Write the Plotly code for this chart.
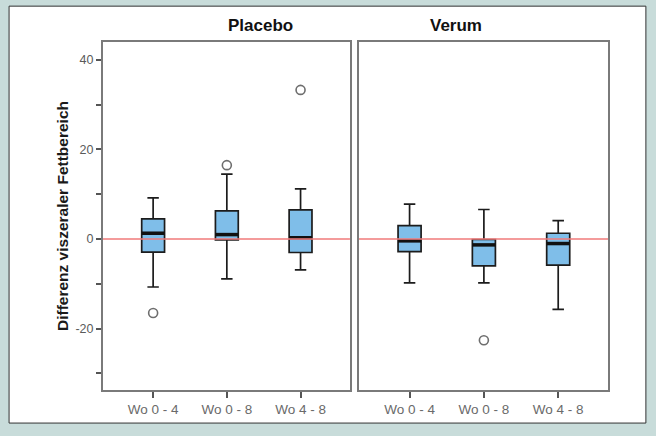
import plotly.graph_objects as go

# ---- data ----
groups = ["Wo 0 - 4", "Wo 0 - 8", "Wo 4 - 8"]
panels = ["Placebo", "Verum"]

placebo_low = [-10.7, -8.9, -6.9]
placebo_q1 = [-2.9, -0.2, -3.0]
placebo_median = [1.3, 1.0, 0.3]
placebo_q3 = [4.5, 6.3, 6.5]
placebo_high = [9.2, 14.5, 11.2]
placebo_out_idx = [0, 1, 2]
placebo_out_val = [-16.5, 16.5, 33.3]

verum_low = [-9.8, -9.8, -15.7]
verum_q1 = [-2.8, -6.0, -5.8]
verum_median = [-0.4, -1.3, -1.0]
verum_q3 = [3.0, -0.1, 1.3]
verum_high = [7.8, 6.6, 4.1]
verum_out_idx = [1]
verum_out_val = [-22.6]

y_tick_vals = [-30, -20, -10, 0, 10, 20, 30, 40]
y_tick_text = ["", "-20", "", "0", "", "20", "", "40"]

# ---- style ----
BOX_FILL = "#7FBEE9"
BOX_W = 0.31
font_fam = "Liberation Sans, Arial, sans-serif"

fig = go.Figure()

series = [
    ("x", "y", placebo_low, placebo_q1, placebo_median, placebo_q3, placebo_high, placebo_out_idx, placebo_out_val),
    ("x2", "y2", verum_low, verum_q1, verum_median, verum_q3, verum_high, verum_out_idx, verum_out_val),
]

pos = list(range(len(groups)))
for xa, ya, lo, q1, med, q3, hi, oi, ov in series:
    fig.add_trace(go.Box(
        x=pos, lowerfence=lo, q1=q1, median=med, q3=q3, upperfence=hi,
        width=BOX_W, whiskerwidth=0.5,
        fillcolor=BOX_FILL, line=dict(color="#1c1c1c", width=1.7),
        boxpoints=False, hoverinfo="skip", showlegend=False,
        xaxis=xa, yaxis=ya,
    ))
    # thick median bars
    mx, my = [], []
    for i, m in zip(pos, med):
        mx += [i - BOX_W / 2, i + BOX_W / 2, None]
        my += [m, m, None]
    fig.add_trace(go.Scatter(
        x=mx, y=my, mode="lines", line=dict(color="#111111", width=3.5),
        hoverinfo="skip", showlegend=False, xaxis=xa, yaxis=ya,
    ))
    # outliers
    fig.add_trace(go.Scatter(
        x=oi, y=ov, mode="markers",
        marker=dict(symbol="circle-open", size=9, color="#6e6e6e", line=dict(width=1.6)),
        hoverinfo="skip", showlegend=False, xaxis=xa, yaxis=ya,
    ))

axis_common = dict(
    showline=True, linecolor="#7a7a7a", linewidth=2, mirror=True,
    showgrid=False, zeroline=False,
)
xr = [-0.68, 2.67]
yr = [-33.7, 44.0]

fig.update_layout(
    width=656, height=436,
    margin=dict(l=103, r=48, t=42, b=46),
    paper_bgcolor="#C8DCDA",
    plot_bgcolor="rgba(0,0,0,0)",
    font=dict(family=font_fam, size=13, color="#5a5a5a"),
    xaxis=dict(domain=[0, 0.489], range=xr, tickvals=pos, ticktext=groups,
               ticks="outside", ticklen=6, tickcolor="#555555", tickwidth=1.5,
               tickfont=dict(size=13.5, color="#6a6a6a"),
               anchor="y", **axis_common),
    xaxis2=dict(domain=[0.507, 1], range=xr, tickvals=pos, ticktext=groups,
                ticks="outside", ticklen=6, tickcolor="#555555", tickwidth=1.5,
                tickfont=dict(size=13.5, color="#6a6a6a"),
                anchor="y2", **axis_common),
    yaxis=dict(range=yr, tickvals=y_tick_vals, ticktext=y_tick_text,
               ticks="outside", ticklen=5, tickcolor="#555555", tickwidth=1.5,
               tickfont=dict(size=12.5, color="#5a5a5a"),
               anchor="x",
               title=dict(text="<b>Differenz viszeraler Fettbereich</b>",
                          font=dict(size=15.5, color="#1a1a1a"), standoff=3),
               **axis_common),
    yaxis2=dict(range=yr, showticklabels=False, ticks="", anchor="x2",
                matches="y", **axis_common),
)

# white inner panel with thin border
fig.add_shape(type="rect", xref="paper", yref="paper",
              x0=-0.186, x1=1.075, y0=-0.095, y1=1.103,
              fillcolor="white", line=dict(color="#333333", width=1), layer="below")

# red zero reference lines
for xa, ya in [("x", "y"), ("x2", "y2")]:
    fig.add_shape(type="line", xref=f"{xa} domain", yref=ya, x0=0, x1=1, y0=0, y1=0,
                  line=dict(color="#F07A7A", width=1.5), layer="above")

# panel titles
for name, dom in zip(panels, [[0, 0.489], [0.507, 1]]):
    fig.add_annotation(text=f"<b>{name}</b>", xref="paper", yref="paper",
                       x=(dom[0] + dom[1]) / 2, y=1.046, showarrow=False,
                       font=dict(size=17, color="#111111"), yanchor="middle")

fig.write_html("out.html", config={"displayModeBar": False},
               post_script="document.body.style.margin='0px';")
